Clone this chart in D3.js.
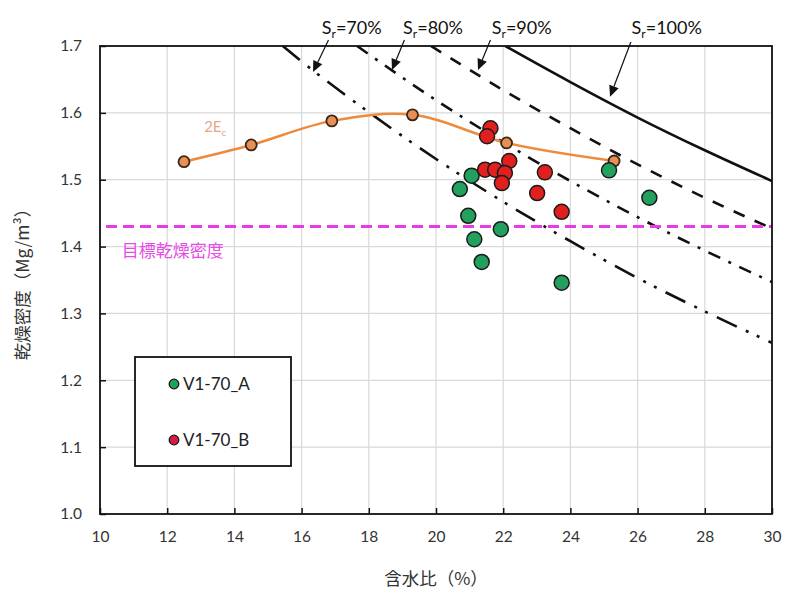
<!DOCTYPE html>
<html>
<head>
<meta charset="utf-8">
<script src="https://cdn.jsdelivr.net/npm/d3@7"></script>
<style>
  body { margin: 0; background: #fff; }
  svg { display: block; }
  .lat { font-family: Lato, "Open Sans", "Noto Sans", sans-serif; }
  .jp { font-family: "Noto Sans CJK JP", "Noto Sans", sans-serif; }
</style>
</head>
<body>
<script>
// Axis ticks
const xTicks = [10, 12, 14, 16, 18, 20, 22, 24, 26, 28, 30];
const yTicks = [1.0, 1.1, 1.2, 1.3, 1.4, 1.5, 1.6, 1.7];

// Compaction curve 2Ec: water content (%), dry density (Mg/m3)
const ecW = [12.5, 14.5, 16.9, 19.3, 22.1, 25.3];
const ecRho = [1.527, 1.552, 1.588, 1.597, 1.555, 1.528];

// Field samples V1-70_A
const aW = [25.15, 26.35, 21.06, 20.71, 20.96, 21.93, 21.14, 21.36, 23.74];
const aRho = [1.514, 1.473, 1.506, 1.486, 1.446, 1.426, 1.411, 1.377, 1.346];

// Field samples V1-70_B
const bW = [21.62, 21.52, 22.18, 21.46, 21.76, 22.05, 21.96, 23.24, 23.01, 23.74];
const bRho = [1.577, 1.565, 1.528, 1.515, 1.515, 1.510, 1.495, 1.511, 1.480, 1.452];

// Saturation lines (Sr = 100, 90, 80, 70 %): points [w, rho]
const sr100 = [[22.06, 1.700], [24, 1.646], [26, 1.593], [28, 1.544], [30, 1.498]];
const sr90 = [[19.85, 1.700], [22, 1.634], [24, 1.577], [26, 1.523], [28, 1.473], [30, 1.427]];
const sr80 = [[17.65, 1.700], [20, 1.619], [22, 1.556], [24, 1.498], [26, 1.444], [28, 1.394], [30, 1.347]];
const sr70 = [[15.44, 1.700], [16, 1.677], [18, 1.601], [20, 1.531], [22, 1.467], [24, 1.408], [26, 1.353], [28, 1.303], [30, 1.256]];

// Target dry density
const targetRho = 1.43;

const W = 788, H = 590;
const svg = d3.select("body").append("svg").attr("width", W).attr("height", H);

const x = d3.scaleLinear().domain([10, 30]).range([100, 772]);
const y = d3.scaleLinear().domain([1.0, 1.7]).range([514, 46]);

const plot = svg.append("g");

// Grid
plot.append("g").selectAll("line").data(xTicks.slice(1, -1)).join("line")
  .attr("x1", d => x(d)).attr("x2", d => x(d))
  .attr("y1", y(1.0)).attr("y2", y(1.7))
  .attr("stroke", "#d9d9d9").attr("stroke-width", 1.2);
plot.append("g").selectAll("line").data(yTicks.slice(1, -1)).join("line")
  .attr("y1", d => y(d)).attr("y2", d => y(d))
  .attr("x1", x(10)).attr("x2", x(30))
  .attr("stroke", "#d9d9d9").attr("stroke-width", 1.2);

// Clip for saturation lines
svg.append("defs").append("clipPath").attr("id", "clip")
  .append("rect").attr("x", x(10)).attr("y", y(1.7))
  .attr("width", x(30) - x(10)).attr("height", y(1.0) - y(1.7));

const line = d3.line().x(d => x(d[0])).y(d => y(d[1])).curve(d3.curveMonotoneX);
const srLines = [
  { pts: sr100, dash: null },
  { pts: sr90, dash: "12,11" },
  { pts: sr80, dash: "13,9,3,9" },
  { pts: sr70, dash: "22,10,3,9,3,10" }
];
const srG = plot.append("g").attr("clip-path", "url(#clip)");
srLines.forEach(s => {
  srG.append("path").attr("d", line(s.pts))
    .attr("fill", "none").attr("stroke", "#111").attr("stroke-width", 2.6)
    .attr("stroke-dasharray", s.dash);
});

// Target dry density line
plot.append("line")
  .attr("x1", x(10) + 6).attr("x2", x(30))
  .attr("y1", y(targetRho)).attr("y2", y(targetRho))
  .attr("stroke", "#e83ae8").attr("stroke-width", 3)
  .attr("stroke-dasharray", "11,6");
plot.append("text").attr("class", "jp")
  .attr("x", x(10.65)).attr("y", y(targetRho) + 30)
  .attr("fill", "#e64ce6").attr("font-size", 17)
  .text("目標乾燥密度");

// 2Ec curve
const ecPts = ecW.map((w, i) => [w, ecRho[i]]);
plot.append("path")
  .attr("d", d3.line().x(d => x(d[0])).y(d => y(d[1])).curve(d3.curveCatmullRom.alpha(0.5))(ecPts))
  .attr("fill", "none").attr("stroke", "#ee8a3c").attr("stroke-width", 2.5);
plot.append("g").selectAll("circle").data(ecPts).join("circle")
  .attr("cx", d => x(d[0])).attr("cy", d => y(d[1])).attr("r", 5.5)
  .attr("fill", "#e98f55").attr("stroke", "#3b2616").attr("stroke-width", 1.8);
const ecLabel = plot.append("text").attr("class", "lat")
  .attr("x", x(13.1)).attr("y", y(1.571))
  .attr("fill", "#e8a48c").attr("font-size", 15);
ecLabel.append("tspan").text("2E");
ecLabel.append("tspan").attr("font-size", 10).attr("dy", 4).text("c");

// Samples
const drawPts = (ws, rs, fill) => {
  plot.append("g").selectAll("circle").data(ws.map((w, i) => [w, rs[i]])).join("circle")
    .attr("cx", d => x(d[0])).attr("cy", d => y(d[1])).attr("r", 7.5)
    .attr("fill", fill).attr("stroke", "#1b1b1b").attr("stroke-width", 1.5);
};
drawPts(aW, aRho, "#22a05e");
drawPts(bW, bRho, "#e21f1f");

// Frame and ticks
plot.append("rect").attr("x", x(10)).attr("y", y(1.7))
  .attr("width", x(30) - x(10)).attr("height", y(1.0) - y(1.7))
  .attr("fill", "none").attr("stroke", "#111").attr("stroke-width", 1.8);

const xAxis = d3.axisBottom(x).tickValues(xTicks).tickSize(-6).tickPadding(17).tickFormat(d3.format("d"));
const gx = svg.append("g").attr("transform", `translate(0,${y(1.0)})`).call(xAxis);
const yAxis = d3.axisLeft(y).tickValues(yTicks).tickSize(-6).tickPadding(18).tickFormat(d3.format(".1f"));
const gy = svg.append("g").attr("transform", `translate(${x(10)},0)`).call(yAxis);
[gx, gy].forEach(g => {
  g.select(".domain").remove();
  g.selectAll(".tick line").attr("stroke", "#111").attr("stroke-width", 1.5);
  g.selectAll(".tick text").attr("class", "lat").attr("font-size", 15.5).attr("fill", "#333");
});

// Axis titles
svg.append("text").attr("class", "jp")
  .attr("x", x(20)).attr("y", 585).attr("text-anchor", "middle")
  .attr("font-size", 17.5).attr("fill", "#333").text("含水比（%）");
svg.append("text").attr("class", "jp")
  .attr("transform", `translate(29,${y(1.35)}) rotate(-90)`)
  .attr("text-anchor", "middle").attr("font-size", 17.5).attr("fill", "#333")
  .text("乾燥密度（Mg/m³）");

// Saturation annotations with arrows
const srNotes = [
  { label: "70%", textW: 16.60, tail: [16.80, 1.709], tip: [16.34, 1.661] },
  { label: "80%", textW: 19.02, tail: [19.06, 1.709], tip: [18.69, 1.664] },
  { label: "90%", textW: 21.66, tail: [21.62, 1.709], tip: [21.25, 1.664] },
  { label: "100%", textW: 25.82, tail: [25.80, 1.706], tip: [25.18, 1.624] }
];
srNotes.forEach(n => {
  const x1 = x(n.tail[0]), y1 = y(n.tail[1]), x2 = x(n.tip[0]), y2 = y(n.tip[1]);
  const ang = Math.atan2(y2 - y1, x2 - x1);
  const len = 11, half = 5;
  const bx = x2 - len * Math.cos(ang), by = y2 - len * Math.sin(ang);
  svg.append("line").attr("x1", x1).attr("y1", y1).attr("x2", bx).attr("y2", by)
    .attr("stroke", "#111").attr("stroke-width", 1.2);
  svg.append("path")
    .attr("d", `M${x2},${y2}L${bx + half * Math.sin(ang)},${by - half * Math.cos(ang)}L${bx - half * Math.sin(ang)},${by + half * Math.cos(ang)}Z`)
    .attr("fill", "#111");
  const t = svg.append("text").attr("class", "lat")
    .attr("x", x(n.textW)).attr("y", 34).attr("font-size", 18).attr("fill", "#111");
  t.append("tspan").text("S");
  t.append("tspan").attr("font-size", 12).attr("dy", 4).text("r");
  t.append("tspan").attr("dy", -4).text("=" + n.label);
});

// Legend
const lg = svg.append("g");
lg.append("rect").attr("x", 135).attr("y", 357).attr("width", 156).attr("height", 109)
  .attr("fill", "#fff").attr("stroke", "#111").attr("stroke-width", 1.8);
const legendItems = [
  { name: "V1-70_A", fill: "#22a05e", dy: 27 },
  { name: "V1-70_B", fill: "#d81b45", dy: 83 }
];
legendItems.forEach(it => {
  lg.append("circle").attr("cx", 174).attr("cy", 357 + it.dy).attr("r", 4.8)
    .attr("fill", it.fill).attr("stroke", "#1b1b1b").attr("stroke-width", 1.3);
  lg.append("text").attr("class", "lat").attr("x", 183).attr("y", 357 + it.dy + 6)
    .attr("font-size", 17).attr("fill", "#222").text(it.name);
});
</script>
</body>
</html>
